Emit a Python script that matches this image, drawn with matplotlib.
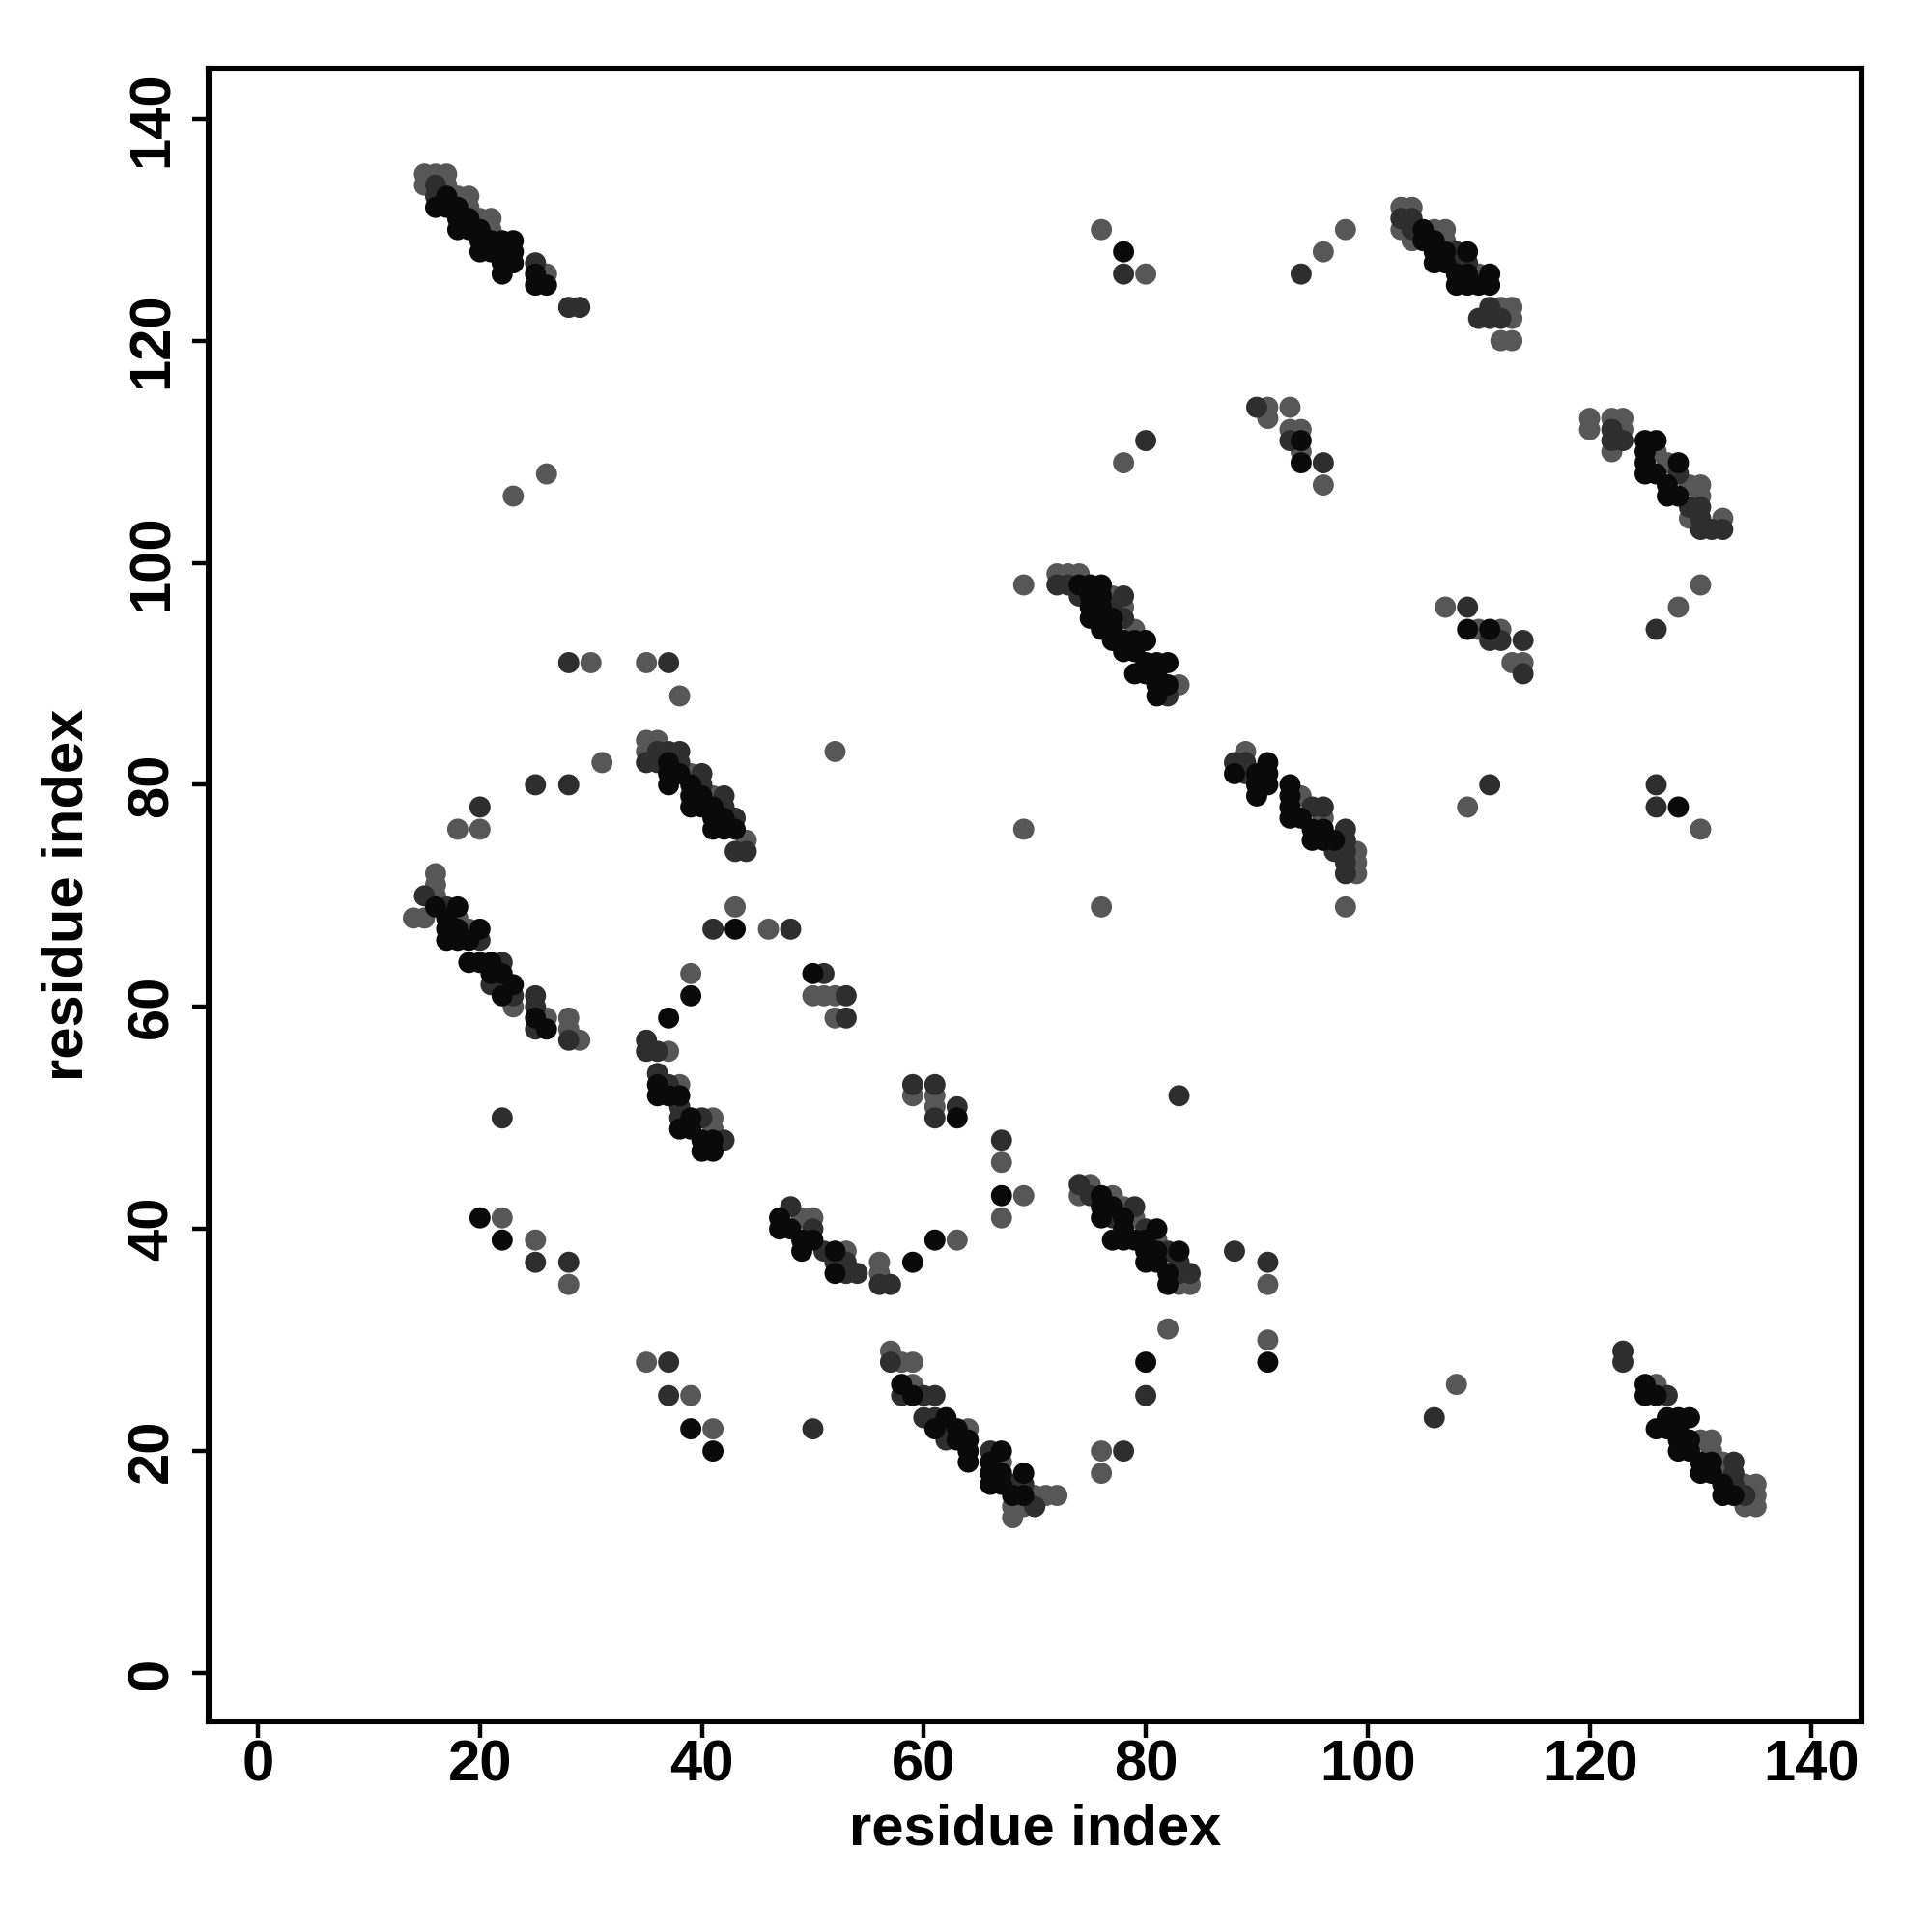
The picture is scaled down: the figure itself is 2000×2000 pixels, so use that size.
import matplotlib
matplotlib.use("Agg")
import matplotlib.pyplot as plt

# contacts as (i, j, level): level 0 = strong (black), 1 = medium, 2 = weak (grey)
band_a = [(15,135,2),(16,135,2),(17,135,2),(15,134,2),(16,134,1),(17,134,2),
          (16,133,1),(17,133,0),(18,133,2),(19,133,2),(16,132,0),(17,132,0),(18,132,0),(19,132,2),
          (18,131,0),(19,131,0),(20,131,2),(21,131,2),(18,130,0),(19,130,0),(20,130,0),(21,130,2),
          (20,129,0),(21,129,0),(22,129,0),(23,129,0),(20,128,0),(21,128,0),(22,128,0),(23,128,0),
          (22,127,0),(23,127,0),(25,127,1),(22,126,0),(25,126,0),(26,126,2),(25,125,0),(26,125,0),
          (28,123,1),(29,123,1)]
band_b = [(72,99,2),(73,99,2),(74,99,2),(72,98,1),(73,98,1),(74,98,0),(75,98,0),(76,98,0),
          (74,97,1),(75,97,0),(76,97,0),(77,97,2),(78,97,1),(75,96,0),(76,96,0),(77,96,1),(78,96,2),
          (75,95,0),(76,95,0),(77,95,0),(78,95,1),(76,94,0),(77,94,0),(79,94,2),
          (77,93,0),(78,93,0),(79,93,0),(80,93,0),(78,92,0),(79,92,0),
          (80,91,0),(81,91,0),(82,91,0),(79,90,0),(80,90,0),(81,90,0),
          (81,89,0),(82,89,0),(83,89,2),(81,88,0),(82,88,1)]
band_c = [(103,132,2),(104,132,2),(103,131,1),(104,131,1),(103,130,2),(104,130,1),(105,130,0),
          (106,130,2),(107,130,2),(104,129,2),(105,129,0),(106,129,0),(107,129,2),
          (106,128,0),(107,128,0),(108,128,1),(109,128,0),(106,127,0),(107,127,0),(108,127,1),(109,127,1),
          (108,126,0),(109,126,0),(110,126,2),(111,126,0),(108,125,0),(109,125,0),(110,125,0),(111,125,0),
          (111,123,1),(112,123,2),(113,123,2),(110,122,1),(111,122,1),(112,122,1),(113,122,2),
          (112,120,2),(113,120,2)]
band_d = [(90,114,1),(91,114,2),(93,114,2),(91,113,2),(93,112,2),(94,112,2),(93,111,1),(94,111,0),
          (94,110,2),(94,109,0),(96,109,1),(96,107,2)]
band_e = [(120,113,2),(122,113,2),(123,113,2),(120,112,2),(122,112,1),(123,112,2),
          (122,111,1),(123,111,1),(125,111,0),(126,111,0),(122,110,2),(125,110,0),(126,110,2),
          (125,109,0),(127,109,2),(128,109,0),(125,108,0),(126,108,0),(128,108,1),
          (127,107,0),(129,107,2),(130,107,2),(127,106,0),(128,106,0),(130,106,2),
          (129,105,1),(130,105,1),(129,104,2),(130,104,1),(132,104,2),(130,103,1),(131,103,1),(132,103,1)]
band_f = [(35,84,2),(36,84,2),(35,83,2),(36,83,1),(37,83,1),(38,83,1),(35,82,1),(36,82,1),(37,82,0),
          (38,82,1),(37,81,0),(38,81,0),(39,81,2),(40,81,1),(37,80,0),(39,80,0),(40,80,1),
          (39,79,0),(40,79,0),(41,79,2),(42,79,1),(39,78,0),(40,78,0),(41,78,0),(42,78,1),
          (41,77,0),(42,77,0),(43,77,1),(41,76,0),(42,76,0),(43,76,0),(44,75,2),(43,74,1),(44,74,1)]
band_g = [(16,72,2),(16,71,2),(15,70,1),(16,70,2),(16,69,0),(17,69,1),(18,69,0),
          (14,68,2),(15,68,2),(17,68,0),(18,68,2),(17,67,0),(18,67,0),(19,67,2),(20,67,0),
          (17,66,0),(18,66,0),(19,66,0),(20,66,1),(19,64,0),(20,64,0),(21,64,0),(22,64,1),
          (21,63,0),(22,63,0),(21,62,1),(22,62,1),(23,62,0),(22,61,0),(23,61,1),(23,60,2),
          (25,61,1),(25,60,1),(25,59,0),(26,59,2),(25,58,1),(26,58,0),
          (28,59,2),(28,58,2),(28,57,1),(29,57,2)]
band_h = [(35,57,1),(35,56,1),(36,56,1),(37,56,2),(36,54,1),(36,53,0),(37,53,1),(38,53,2),
          (36,52,0),(37,52,0),(38,52,0),(38,51,1),(38,50,1),(39,50,0),(40,50,1),(41,50,2),
          (38,49,0),(39,49,0),(41,49,2),(40,48,0),(41,48,0),(42,48,1),(40,47,0),(41,47,0)]
band_i = [(48,42,1),(47,41,0),(49,41,2),(50,41,2),(47,40,0),(48,40,0),(50,40,1),
          (49,39,0),(50,39,0),(49,38,0),(51,38,1),(52,38,0),(53,38,2),(52,37,1),(53,37,1),
          (52,36,0),(53,36,1),(54,36,1),(56,37,2),(56,36,2),(56,35,1),(57,35,1)]
band_j = [(57,29,2),(57,28,1),(58,28,2),(59,28,2),(58,26,0),(59,26,2),
          (58,25,1),(59,25,0),(60,25,1),(61,25,1),(60,23,1),(61,23,1),(62,23,0),
          (61,22,0),(62,22,1),(63,22,0),(64,22,2),(62,21,1),(63,21,0),(64,21,0),(64,20,0),(64,19,0),
          (66,20,1),(67,20,0),(66,19,0),(67,19,2),(66,18,0),(67,18,0),(69,18,0),
          (66,17,0),(67,17,0),(68,17,1),(69,17,1),(68,16,0),(69,16,0),(70,16,2),(71,16,2),(72,16,2),
          (68,15,2),(69,15,2),(70,15,1),(68,14,2)]
band_k = [(74,44,1),(75,44,2),(74,43,2),(75,43,1),(76,43,0),(77,43,2),
          (76,42,0),(77,42,0),(78,42,2),(79,42,1),(76,41,0),(77,41,1),(78,41,0),(79,41,2),
          (78,40,0),(80,40,1),(81,40,0),(77,39,0),(78,39,0),(79,39,0),(80,39,0),(81,39,2),
          (80,38,0),(81,38,0),(82,38,1),(83,38,0),(80,37,0),(81,37,0),(83,37,1),
          (82,36,0),(83,36,1),(84,36,1),(82,35,0),(83,35,2),(84,35,2)]
band_l = [(89,83,2),(88,82,1),(89,82,1),(91,82,0),(88,81,0),(89,81,1),(90,81,0),(91,81,0),
          (90,80,0),(91,80,0),(90,79,0),(93,80,0),(93,79,0),(94,79,2),
          (93,78,0),(95,78,1),(96,78,1),(93,77,0),(94,77,0),(96,77,2),
          (95,76,0),(96,76,0),(98,76,1),(95,75,0),(96,75,0),(97,75,0),(98,75,1),
          (97,74,1),(98,74,1),(99,74,2),(98,73,1),(99,73,2),(98,72,1),(99,72,2),(98,69,2)]
band_m = [(123,29,1),(123,28,1),(125,26,0),(126,26,2),(125,25,0),(126,25,0),(127,25,1),
          (127,23,0),(128,23,0),(129,23,0),(126,22,0),(127,22,0),(128,22,0),
          (128,21,0),(129,21,0),(130,21,2),(131,21,2),(128,20,0),(129,20,0),(131,20,2),
          (130,19,0),(131,19,0),(132,19,2),(133,19,1),(130,18,0),(131,18,0),(132,18,2),(133,18,1),
          (132,17,0),(133,17,1),(134,17,2),(135,17,2),(132,16,0),(133,16,0),(134,16,1),(135,16,2),
          (134,15,2),(135,15,2)]
scattered = [(26,108,2),(23,106,2),(76,130,2),(78,128,0),(78,126,1),(80,126,2),
             (98,130,2),(96,128,2),(94,126,1),(80,111,1),(78,109,2),(69,98,2),
             (107,96,2),(109,96,1),(109,94,0),(110,94,2),(111,94,0),(112,94,2),
             (111,93,1),(112,93,1),(114,93,1),(113,91,2),(114,91,2),(114,90,1),
             (126,94,1),(128,96,2),(130,98,2),(111,80,1),(109,78,2),
             (126,80,1),(126,78,1),(128,78,0),(130,76,2),
             (28,91,1),(30,91,2),(35,91,2),(37,91,1),(38,88,2),(31,82,2),
             (25,80,1),(28,80,1),(20,78,1),(18,76,2),(20,76,2),(52,83,2),
             (69,76,2),(76,69,2),(43,69,2),(41,67,1),(43,67,0),(46,67,2),(48,67,1),
             (39,63,2),(39,61,0),(37,59,0),(50,63,0),(51,63,1),
             (50,61,2),(51,61,2),(52,61,2),(53,61,1),(52,59,2),(53,59,1),
             (59,53,1),(61,53,1),(59,52,2),(61,52,2),(61,51,2),(61,50,1),(63,51,1),(63,50,0),
             (67,48,1),(67,46,2),(67,43,0),(69,43,2),(67,41,2),(83,52,1),(22,50,1),
             (61,39,0),(63,39,2),(59,37,0),(88,38,1),(91,37,1),(91,35,2),
             (82,31,2),(80,28,0),(80,25,1),(91,30,2),(91,28,0),
             (20,41,0),(22,41,2),(22,39,0),(25,39,2),(25,37,1),(28,37,1),(28,35,2),
             (35,28,2),(37,28,1),(37,25,1),(39,25,2),(39,22,0),(41,22,2),(41,20,0),
             (50,22,1),(76,20,2),(76,18,2),(78,20,1),(106,23,1),(108,26,2)]

level_colors = ["#0a0a0a", "#2e2e2e", "#575757"]
x_ticks = [0, 20, 40, 60, 80, 100, 120, 140]
y_ticks = [0, 20, 40, 60, 80, 100, 120, 140]
axis_title = "residue index"

contacts = (band_a + band_b + band_c + band_d + band_e + band_f + band_g + band_h
            + band_i + band_j + band_k + band_l + band_m + scattered)
# draw weak contacts first so strong ones sit on top
contacts = sorted(contacts, key=lambda c: -c[2])
xs = [c[0] for c in contacts]
ys = [c[1] for c in contacts]
cols = [level_colors[c[2]] for c in contacts]

plt.rcParams['font.family'] = ['Liberation Sans', 'DejaVu Sans']
plt.rcParams['font.weight'] = 'bold'

fig = plt.figure(figsize=(10, 10), dpi=200)
ax = fig.add_axes([0.108, 0.109, 0.8555, 0.8555])
ax.scatter(xs, ys, s=62, c=cols, linewidths=0, zorder=3)

ax.set_xlim(-4.45, 144.5)
ax.set_ylim(-4.35, 144.5)
ax.set_xticks(x_ticks)
ax.set_yticks(y_ticks)
ax.set_xticklabels([str(t) for t in x_ticks], fontsize=21.5, fontweight='bold')
ax.set_yticklabels([str(t) for t in y_ticks], fontsize=21.5, fontweight='bold',
                   rotation=90, va='center')
ax.tick_params(axis='both', direction='out', length=6, width=1.6)
ax.tick_params(axis='x', pad=0.5)
ax.tick_params(axis='y', pad=5)
for sp in ax.spines.values():
    sp.set_linewidth(2.2)
ax.set_xlabel(axis_title, fontsize=21.5, fontweight='bold', labelpad=4)
ax.set_ylabel(axis_title, fontsize=21.5, fontweight='bold', labelpad=12)

fig.savefig("out.png", dpi=200)
